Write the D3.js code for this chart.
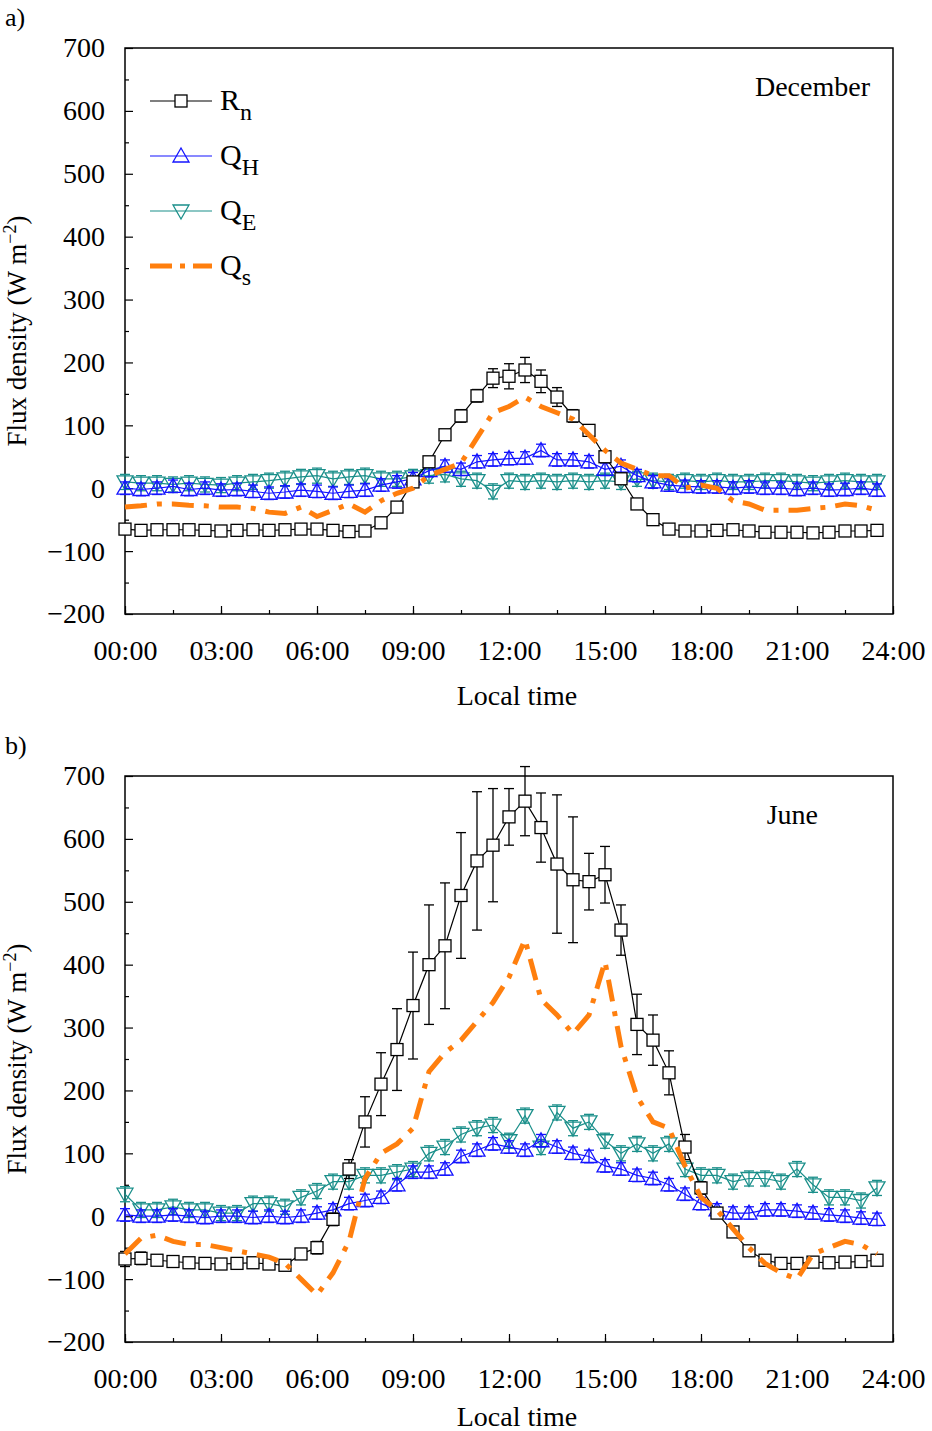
<!DOCTYPE html>
<html><head><meta charset="utf-8">
<script src="https://cdn.jsdelivr.net/npm/d3@7"></script>
<style>body{margin:0;background:#fff}text{font-family:"Liberation Serif",serif;fill:#000}</style>
</head><body><svg id="c" width="932" height="1431"></svg>
<script>
const hours = d3.range(48).map(i => i/2);
const xTicks = ["00:00","03:00","06:00","09:00","12:00","15:00","18:00","21:00","24:00"];
const yTicks = [-200,-100,0,100,200,300,400,500,600,700];

const decRn = [-65,-67,-66,-66,-66,-67,-68,-67,-66,-67,-66,-65,-65,-67,-69,-68,
  -55,-30,10,42,85,115,147,175,178,188,170,145,115,92,50,15,-25,-50,
  -65,-68,-68,-67,-66,-68,-70,-70,-70,-71,-70,-68,-68,-67];
const decRnErr = [5,5,5,5,5,5,5,5,5,5,5,5,5,5,5,5,5,8,8,8,8,10,10,15,20,20,18,15,10,8,8,8,6,5,5,5,5,5,5,5,5,5,5,5,5,5,5,5];
const decQH = [0,-2,0,3,-2,0,-3,-2,-5,-8,-6,-3,-5,-8,-5,-3,5,10,15,28,35,30,42,45,47,48,60,45,45,42,30,35,20,10,5,3,2,2,0,2,0,0,-2,0,-3,-2,0,-3];
const decQE = [10,8,8,6,8,6,5,8,10,12,15,18,20,15,18,20,15,15,18,20,22,15,12,-5,12,10,12,10,12,10,12,10,15,12,10,12,10,12,10,10,12,12,10,8,10,12,10,10];
const decQs = [-30,-28,-25,-25,-27,-28,-30,-30,-32,-38,-40,-30,-45,-35,-25,-38,-20,-8,0,20,30,40,80,120,130,145,130,120,110,85,60,40,30,20,20,0,5,0,-20,-25,-35,-35,-35,-32,-30,-25,-28,-35];

const junRn = [-68,-67,-70,-72,-74,-75,-76,-75,-74,-76,-78,-60,-50,-5,75,150,210,265,335,400,430,510,565,590,635,660,618,560,535,532,543,455,305,280,228,110,45,5,-25,-55,-70,-75,-75,-73,-74,-73,-72,-70];
const junRnErr = [12,10,8,8,8,8,8,8,8,8,8,8,10,10,15,40,50,65,85,95,100,100,110,90,45,55,55,110,100,45,45,40,48,40,35,20,10,8,8,8,8,8,8,8,8,8,8,8];
const junQH = [2,0,0,2,0,-2,0,0,-2,0,-2,0,5,10,20,25,30,50,70,70,75,95,105,115,110,105,120,110,100,95,80,75,65,60,50,35,20,10,5,5,10,10,8,5,2,0,-3,-5];
const junQE = [35,10,10,15,10,10,5,5,20,20,15,30,40,55,55,65,65,70,75,100,110,130,140,145,120,160,110,165,140,150,120,100,115,100,115,75,65,65,55,60,60,55,75,50,30,30,25,45];
const junQs = [-60,-35,-30,-40,-45,-45,-50,-55,-60,-65,-75,-100,-125,-90,-40,60,100,115,140,230,260,280,310,340,380,440,345,320,290,320,405,270,190,150,140,80,30,10,-20,-50,-75,-90,-100,-60,-50,-40,-45,-60];

const svg = d3.select("#c");
function panel(top, label, month, Rn, RnErr, QH, QE, Qs, legend, labelY){
  const x = d3.scaleLinear().domain([0,24]).range([125,893]);
  const y = d3.scaleLinear().domain([-200,700]).range([top+566, top]);
  const g = svg.append("g");
  g.append("rect").attr("x",125).attr("y",top).attr("width",768).attr("height",566).attr("fill","none").attr("stroke","#000").attr("stroke-width",1.5);
  g.append("g").attr("transform",`translate(0,${top+566})`)
    .call(d3.axisBottom(x).tickValues(d3.range(0,25,3)).tickFormat((d,i)=>xTicks[i]).tickSize(-8).tickPadding(26));
  g.append("g").attr("transform",`translate(0,${top+566})`).call(d3.axisBottom(x).tickValues(d3.range(0,25,1.5)).tickFormat("").tickSize(-4));
  g.append("g").attr("transform","translate(125,0)")
    .call(d3.axisLeft(y).tickValues(yTicks).tickFormat(d=>d<0?"\u2212"+(-d):d).tickSize(-8).tickPadding(20));
  g.append("g").attr("transform","translate(125,0)").call(d3.axisLeft(y).tickValues(d3.range(-150,700,100)).tickFormat("").tickSize(-4));
  g.selectAll(".domain").remove();
  g.selectAll(".tick line").attr("stroke","#000").attr("stroke-width",1.2);
  g.selectAll(".tick text").style("font-size","28px").style("font-family","Liberation Serif");
  g.append("text").attr("x",517).attr("y",labelY).attr("text-anchor","middle").style("font-size","28px").text("Local time");
  const yl = g.append("text").attr("transform",`translate(26,${top+283}) rotate(-90)`).attr("text-anchor","middle").style("font-size","27px");
  yl.append("tspan").text("Flux density (W m");
  yl.append("tspan").attr("dy",-10).style("font-size","18px").text("\u22122");
  yl.append("tspan").attr("dy",10).text(")");
  g.append("text").attr("x",5).attr("y",top-22).style("font-size","26px").text(label);
  g.append("text").attr("x",month==="June"?818:870).attr("y",top+48).attr("text-anchor","end").style("font-size","28px").text(month);

  const series = [
    {v:QE, e:QE.map(()=>12), c:"#1a8f8a", m:"down"},
    {v:QH, e:QH.map(()=>10), c:"#1414ff", m:"up"},
    {v:Rn, e:RnErr, c:"#000", m:"sq"}
  ];
  const line = d3.line().x((d,i)=>x(hours[i])).y(d=>y(d));
  series.forEach(s=>{
    const sg = g.append("g");
    s.v.forEach((d,i)=>{
      const xx=x(hours[i]);
      sg.append("line").attr("x1",xx).attr("x2",xx).attr("y1",y(d-s.e[i])).attr("y2",y(d+s.e[i])).attr("stroke",s.c).attr("stroke-width",1.3);
      [d-s.e[i],d+s.e[i]].forEach(v=>sg.append("line").attr("x1",xx-5).attr("x2",xx+5).attr("y1",y(v)).attr("y2",y(v)).attr("stroke",s.c).attr("stroke-width",1.3));
    });
    sg.append("path").attr("d",line(s.v)).attr("fill","none").attr("stroke",s.c).attr("stroke-width",1.2);
    s.v.forEach((d,i)=>marker(sg,x(hours[i]),y(d),s.m,s.c));
  });
  g.append("path").attr("d",line(Qs)).attr("fill","none").attr("stroke","#ff7f0e").attr("stroke-width",5).attr("stroke-dasharray","22,10,5,10");
  if(legend){
    const items=[["R","n","sq","#000"],["Q","H","up","#1414ff"],["Q","E","down","#1a8f8a"],["Q","s","qs","#ff7f0e"]];
    items.forEach((it,k)=>{
      const ly=top+53+k*55;
      if(it[2]==="qs"){
        g.append("line").attr("x1",150).attr("x2",212).attr("y1",ly).attr("y2",ly).attr("stroke","#ff7f0e").attr("stroke-width",5).attr("stroke-dasharray","22,8,5,8");
      } else {
        g.append("line").attr("x1",150).attr("x2",212).attr("y1",ly).attr("y2",ly).attr("stroke",it[3]).attr("stroke-width",1.2);
        marker(g,181,ly,it[2],it[3]);
      }
      const t=g.append("text").attr("x",220).attr("y",ly+9).style("font-size","30px");
      t.append("tspan").text(it[0]);
      t.append("tspan").attr("dy",10).style("font-size","24px").text(it[1]);
    });
  }
}
function marker(g,cx,cy,m,c){
  if(m==="sq") g.append("rect").attr("x",cx-6).attr("y",cy-6).attr("width",12).attr("height",12).attr("fill","#fff").attr("stroke",c).attr("stroke-width",1.3);
  else if(m==="up") g.append("path").attr("d",`M${cx},${cy-8}L${cx+8},${cy+6}L${cx-8},${cy+6}Z`).attr("fill","none").attr("stroke",c).attr("stroke-width",1.3);
  else g.append("path").attr("d",`M${cx},${cy+8}L${cx+8},${cy-6}L${cx-8},${cy-6}Z`).attr("fill","none").attr("stroke",c).attr("stroke-width",1.3);
}
panel(48,"a)","December",decRn,decRnErr,decQH,decQE,decQs,true,705);
panel(776,"b)","June",junRn,junRnErr,junQH,junQE,junQs,false,1426);
</script></body></html>
